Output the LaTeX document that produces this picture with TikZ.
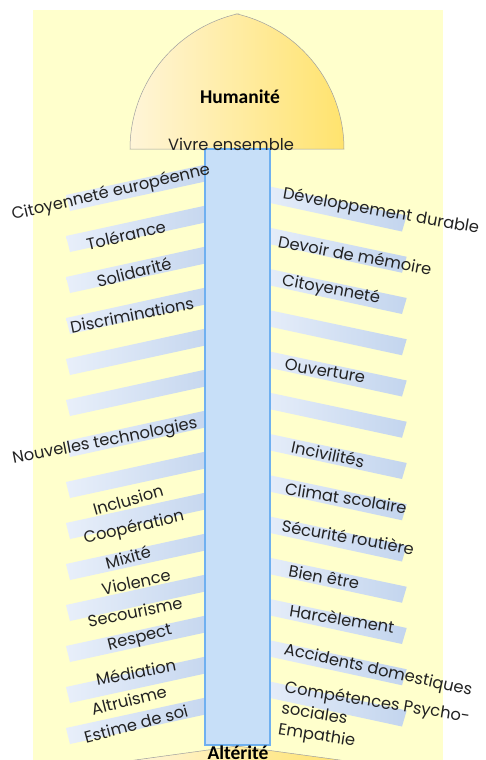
\documentclass[tikz,border=0pt]{standalone}
\usepackage{fontspec}
\setmainfont{Poppins}
\newfontfamily\calib{Carlito}
\definecolor{bgyellow}{HTML}{FFFFCC}
\definecolor{bandL}{HTML}{E8EFFA}
\definecolor{bandR}{HTML}{C3D5EE}
\definecolor{pillarF}{HTML}{C7DFF8}
\definecolor{pillarB}{HTML}{6FB0F0}
\definecolor{domeL}{HTML}{FFF5D8}
\definecolor{domeR}{HTML}{FFE36E}
\definecolor{txt}{HTML}{222222}
\begin{document}
\begin{tikzpicture}[x=1pt,y=-1pt,
  lbl/.style={font=\fontsize{16.3}{21}\selectfont, text=txt, inner sep=0pt},
  band/.style={left color=bandL, right color=bandR, draw=none},
  title/.style={font=\calib\bfseries\fontsize{19.5}{21}\selectfont, text=black, inner sep=0pt, anchor=base}
]
\useasboundingbox (0,0) rectangle (485,760);
\fill[white] (0,0) rectangle (485,760);
\fill[bgyellow] (33,10) rectangle (443,760);
% left bands
\foreach \y in {195,236,...,728}
  \shade[band] (66,\y) -- (215,\y-32.5) -- (219,\y-16.5) -- (70,\y+16) -- cycle;
% right bands
\foreach \i in {0,...,12}{
  \pgfmathsetmacro\yy{186+41.25*\i}
  \shade[band] (258,\yy-2) -- (406.7,\yy+29.5) -- (402,\yy+45.5) -- (254,\yy+13.5) -- cycle;
}
% dome
\shadedraw[left color=domeL, right color=domeR, draw=gray!75, line width=0.5pt]
  plot[domain=180:103.2,samples=40] ({268.7+138.7*cos(\x)},{149-138.7*sin(\x)})
  -- plot[domain=76.8:0,samples=40] ({205.3+138.7*cos(\x)},{149-138.7*sin(\x)}) -- cycle;
% bottom shape
\shadedraw[left color=domeL, right color=domeR, draw=gray!75, line width=0.5pt]
  (128,761) -- (237,746) -- (347,761) -- cycle;
% pillar
\draw[draw=pillarB, fill=pillarF, line width=1.6pt] (205,149) rectangle (270,745);
% titles
\node[title] (hum) at (240,103.5) {Humanité};
\node[title] (alt) at (238,759) {Altérité};
\node[lbl, anchor=base] (vivre) at (231,150.5) {Vivre ensemble};
% left labels
\node[lbl, rotate=13] (l1) at (111,193) {Citoyenneté européenne};
\node[lbl, rotate=13] (l2) at (126,235) {Tolérance};
\node[lbl, rotate=14] (l3) at (134,272) {Solidarité};
\node[lbl, rotate=11] (l4) at (132,315) {Discriminations};
\node[lbl, rotate=11] (l5) at (105,442) {Nouvelles technologies};
\node[lbl, rotate=16] (l6) at (128,500) {Inclusion};
\node[lbl, rotate=13] (l7) at (134,528) {Coopération};
\node[lbl, rotate=15] (l8) at (128,557) {Mixité};
\node[lbl, rotate=12] (l9) at (136,582) {Violence};
\node[lbl, rotate=11.5] (l10) at (135,612) {Secourisme};
\node[lbl, rotate=14] (l11) at (140,639) {Respect};
\node[lbl, rotate=11] (l12) at (136,672) {Médiation};
\node[lbl, rotate=14] (l13) at (129,700) {Altruisme};
\node[lbl, rotate=15] (l14) at (136,724) {Estime de soi};
% right labels
\node[lbl, rotate=-10] (r1) at (381,212) {Développement durable};
\node[lbl, rotate=-10.5] (r2) at (355,255) {Devoir de mémoire};
\node[lbl, rotate=-10.5] (r3) at (331,290) {Citoyenneté};
\node[lbl, rotate=-9.5] (r4) at (325,371) {Ouverture};
\node[lbl, rotate=-12] (r5) at (328,454) {Incivilités};
\node[lbl, rotate=-9] (r6) at (346,498) {Climat scolaire};
\node[lbl, rotate=-10] (r7) at (348,537) {Sécurité routière};
\node[lbl, rotate=-10] (r8) at (324,577) {Bien être};
\node[lbl, rotate=-9] (r9) at (342,619) {Harcèlement};
\node[lbl, rotate=-12.5] (r10) at (378,671) {Accidents domestiques};
\node[lbl, rotate=-9, align=left, anchor=north west] (r11) at (286,680) {Compétences Psycho-\\sociales\\Empathie};
\end{tikzpicture}
\end{document}
